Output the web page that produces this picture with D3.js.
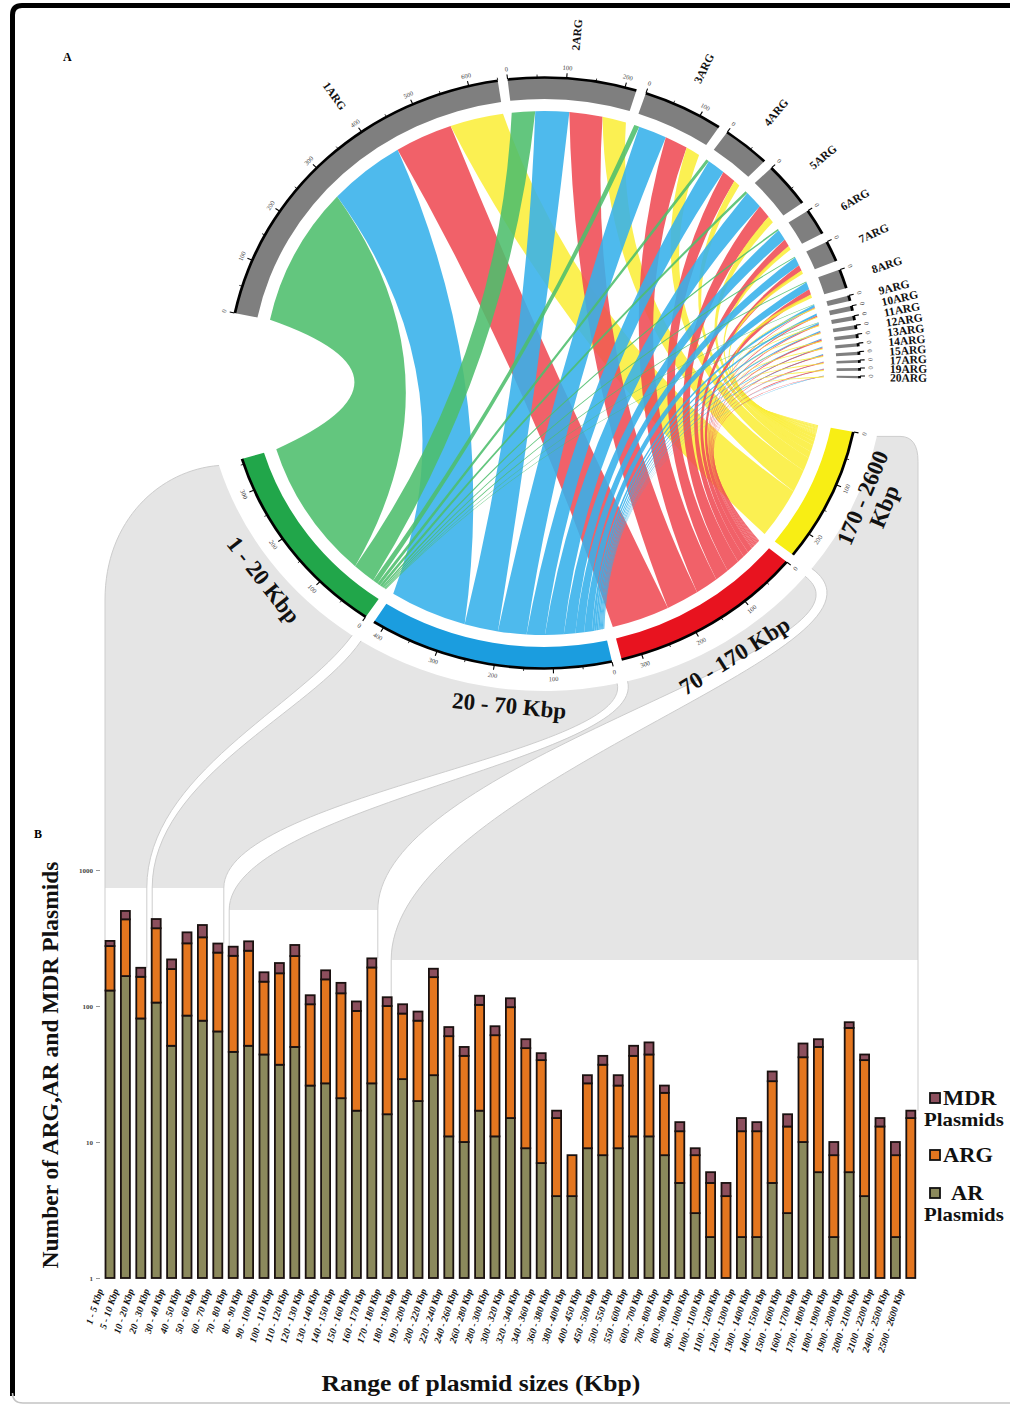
<!DOCTYPE html>
<html><head><meta charset="utf-8">
<script src="https://cdn.jsdelivr.net/npm/d3@7"></script>
<style>
body{margin:0;background:#fff}
svg{display:block}
text{font-family:"Liberation Serif","Times New Roman",serif;font-weight:bold}
</style>
</head><body>
<svg id="chart" width="1010" height="1405"></svg>
<script>
// ---------------- DATA ----------------
const argNames = ["1ARG","2ARG","3ARG","4ARG","5ARG","6ARG","7ARG","8ARG","9ARG","10ARG","11ARG","12ARG","13ARG","14ARG","15ARG","17ARG","19ARG","20ARG"];
const sizeGroups = ["1 - 20 Kbp","20 - 70 Kbp","70 - 170 Kbp","170 - 2600 Kbp"];
// rows = ARG class, columns = plasmid size group
const linkCounts = [
  [285,150,112,103],
  [45,65,64,46],
  [10,55,45,28],
  [6,35,28,13],
  [5,36,27,14],
  [3,22,15,8],
  [2,17,12,7],
  [2,15,11,7],
  [1,5,2,2],
  [0,4,3,2],
  [1,3,2,2],
  [0,3,2,2],
  [0,2,3,2],
  [0,2,2,2],
  [0,2,2,2],
  [0,1,2,2],
  [0,1,2,2],
  [0,1,1,2]
];
const sizeRanges = ["1 - 5","5 - 10","10 - 20","20 - 30","30 - 40","40 - 50","50 - 60","60 - 70","70 - 80","80 - 90","90 - 100","100 - 110","110 - 120","120 - 130","130 - 140","140 - 150","150 - 160","160 - 170","170 - 180","180 - 190","190 - 200","200 - 220","220 - 240","240 - 260","260 - 280","280 - 300","300 - 320","320 - 340","340 - 360","360 - 380","380 - 400","400 - 450","450 - 500","500 - 550","550 - 600","600 - 700","700 - 800","800 - 900","900 - 1000","1000 - 1100","1100 - 1200","1200 - 1300","1300 - 1400","1400 - 1500","1500 - 1600","1600 - 1700","1700 - 1800","1800 - 1900","1900 - 2000","2000 - 2100","2100 - 2200","2400 - 2500","2500 - 2600"];
const arPlasmids = [130,166,81,106,51,85,78,65,46,51,44,37,50,26,27,21,17,27,16,29,20,31,11,10,17,11,15,9,7,4,4,9,8,9,11,11,8,5,3,2,1,2,2,5,3,10,6,2,6,4,1,2,1];
const argGenes   = [146,268,83,267,136,204,242,182,188,204,107,137,183,77,130,103,75,165,84,59,58,132,49,33,85,50,83,40,33,11,4,18,29,17,32,33,15,7,5,3,3,10,10,23,10,32,44,6,63,36,12,6,14];
const mdrPlasmids= [25,66,27,63,33,59,74,41,39,44,26,33,48,17,26,24,16,32,16,15,13,25,10,7,17,10,16,8,5,2,0,4,6,5,8,10,3,2,1,1,1,3,2,5,3,11,7,2,7,4,2,2,2];
const groupBarRanges = [[0,2],[3,7],[8,17],[18,52]];
const yTickValues = [1,10,100,1000];
const legendItems = [["MDR","Plasmids"],["ARG"],["AR","Plasmids"]];

// ---------------- STYLE / LAYOUT ----------------
const DEG = Math.PI/180;
const svg = d3.select("#chart");
const cx = 544, cy = 373, sx = 1.068;
const rIn = 274, rOut = 295, rChord = 262, rBand = 318;
const k = 0.1075*DEG;          // radians per unit
const sectorFill = ["#21a64a","#1b9ddf","#e8131f","#f8ee14"];
const linkFill   = ["#4dbe6c","#36b0ea","#ef4b54","#fbee3a"];
const argFill = "#7f7f7f";
const segColors = ["#8b895c","#e4761f","#8c4f5d"];

function P(theta, r){ return [cx + sx*r*Math.sin(theta), cy - r*Math.cos(theta)]; }

// frame
svg.append("path").attr("d","M1012,5.5 L22,5.5 Q12.5,5.5 12.5,15 L12.5,1396")
  .attr("fill","none").attr("stroke","#000").attr("stroke-width",5);
svg.append("path").attr("d","M12.5,1393 Q12.5,1403 23,1403 L1010,1403")
  .attr("fill","none").attr("stroke","#c4c4c4").attr("stroke-width",1.5);

// ---------------- CHORD LAYOUT ----------------
const rowTot = linkCounts.map(r=>d3.sum(r));
const colTot = sizeGroups.map((_,j)=>d3.sum(linkCounts, r=>r[j]));
let a = -78.3*DEG;
const argSec = argNames.map((n,i)=>{
  const s=a, e=a+rowTot[i]*k;
  const gap = i<7 ? 1.8 : (i===7 ? 1.5 : 1.0);
  a = e + gap*DEG;
  return {name:n, start:s, end:e, total:rowTot[i]};
});
a = 101.5*DEG;
const sizeSec = [];
[3,2,1,0].forEach(j=>{
  const s=a, e=a+colTot[j]*k;
  a = e + 1.8*DEG;
  sizeSec[j] = {name:sizeGroups[j], start:s, end:e, total:colTot[j], j};
});

// ---------------- BAR SCALES ----------------
const x = d3.scalePoint().domain(sizeRanges).range([110, 910.8]);
const y = d3.scaleLog().domain([1,1000]).range([1278, 870]);
const bw = 9;
const totals = sizeRanges.map((_,i)=>arPlasmids[i]+argGenes[i]+mdrPlasmids[i]);

// ---------------- GREY CONNECTOR BANDS ----------------
const bandBottom = [888, 888, 910, 960];
const leftOff = [-5,-4,-4,4], rightOff=[6,6,6,6];
const gBands = svg.append("g");
function radialUnit(theta){
  const vx = sx*Math.sin(theta), vy = -Math.cos(theta);
  const L = Math.hypot(vx,vy); return [vx/L, vy/L];
}
function sCurve(theta, ex, ey){
  const p = P(theta, rBand), u = radialUnit(theta);
  const d = ey - p[1];
  return {p, c1:[p[0]+u[0]*d*0.35, p[1]+u[1]*d*0.35], c2:[ex, ey-d*0.45], e:[ex,ey]};
}
sizeSec.forEach((sec,j)=>{
  const [b0,b1] = groupBarRanges[j];
  const yB = bandBottom[j];
  const xL = x(sizeRanges[b0]) + leftOff[j];
  const xR = x(sizeRanges[b1]) + rightOff[j];
  const Ps = P(sec.start, rBand), Pe = P(sec.end, rBand);
  const rx = sx*rBand, ry = rBand;
  let rightFwd, rightEndX;
  if (j===3){
    rightFwd = `L900,${Ps[1]} Q918,${Ps[1]} 918,${Ps[1]+25} L918,${yB}`;
    rightEndX = 918;
  } else {
    const c = sCurve(sec.start, xR, yB);
    rightFwd = `C${c.c1} ${c.c2} ${c.e}`;
    rightEndX = xR;
  }
  let leftFwd, leftRev, leftEndX;
  if (j===0){
    leftFwd = `C160,470 105,520 105,600 L105,${yB}`;
    leftRev = `L105,600 C105,520 160,470 ${Pe}`;
    leftEndX = 105;
  } else {
    const c = sCurve(sec.end, xL, yB);
    leftFwd = `C${c.c1} ${c.c2} ${c.e}`;
    leftRev = `C${c.c2} ${c.c1} ${c.p}`;
    leftEndX = xL;
  }
  const d = `M${Pe} A${rx},${ry} 0 0 0 ${Ps} ${rightFwd} L${leftEndX},${yB} ${leftRev} Z`;
  gBands.append("path").attr("d", d).attr("fill","#e5e5e5").attr("stroke","none");
  const topR = y(totals[b1]), topL = y(totals[b0]);
  gBands.append("path").attr("d", `M${Ps} ${rightFwd} L${rightEndX},${topR}`)
    .attr("fill","none").attr("stroke","#cdcdcd").attr("stroke-width",1);
  gBands.append("path").attr("d", `M${Pe} ${leftFwd} L${leftEndX},${topL}`)
    .attr("fill","none").attr("stroke","#cdcdcd").attr("stroke-width",1);
});

// ---------------- CHORD DIAGRAM ----------------
const gC = svg.append("g").attr("transform",`translate(${cx},${cy}) scale(${sx},1)`);
const srcPos = linkCounts.map((row,i)=>{ let s=argSec[i].start; return row.map(v=>{const o={startAngle:s,endAngle:s+v*k}; s+=v*k; return o;}); });
const tgtPos = linkCounts.map(r=>r.map(()=>null));
sizeSec.forEach(sec=>{
  let s=sec.start;
  for(let i=argNames.length-1;i>=0;i--){
    const v=linkCounts[i][sec.j];
    tgtPos[i][sec.j]={startAngle:s,endAngle:s+v*k}; s+=v*k;
  }
});
function ctrl(a1, a2, r){
  let d = a2 - a1;
  while (d > Math.PI) d -= 2*Math.PI;
  while (d <= -Math.PI) d += 2*Math.PI;
  const m = a1 + d/2, c = 0.4*r*Math.cos(Math.abs(d)/2);
  return [c*Math.sin(m), -c*Math.cos(m)];
}
function linkPath(src, tgt, r){
  const p = d3.path();
  const pt = t=>[r*Math.sin(t), -r*Math.cos(t)];
  const s0=pt(src.startAngle), t0=pt(tgt.startAngle);
  p.moveTo(s0[0], s0[1]);
  p.arc(0,0,r,src.startAngle-Math.PI/2, src.endAngle-Math.PI/2);
  const c1 = ctrl(src.endAngle, tgt.startAngle, r);
  p.quadraticCurveTo(c1[0], c1[1], t0[0], t0[1]);
  p.arc(0,0,r,tgt.startAngle-Math.PI/2, tgt.endAngle-Math.PI/2);
  const c2 = ctrl(tgt.endAngle, src.startAngle, r);
  p.quadraticCurveTo(c2[0], c2[1], s0[0], s0[1]);
  p.closePath();
  return p.toString();
}
const linkData=[];
linkCounts.forEach((row,i)=>row.forEach((v,j)=>{ if(v>0) linkData.push({i,j,source:srcPos[i][j],target:tgtPos[i][j]}); }));
gC.selectAll("path.link").data(linkData).join("path").attr("class","link")
  .attr("d", d=>linkPath(d.source, d.target, rChord))
  .attr("fill", d=>linkFill[d.j]).attr("fill-opacity",0.88);

const arcRing = d3.arc().innerRadius(rIn).outerRadius(rOut);
const arcAxis = d3.arc().innerRadius(rOut-0.8).outerRadius(rOut+1.8);
const allSec = argSec.map(s=>({...s, fill:argFill})).concat(sizeSec.map(s=>({...s, fill:sectorFill[s.j]})));
gC.selectAll("path.sec").data(allSec).join("path").attr("class","sec")
  .attr("d", d=>arcRing({startAngle:d.start,endAngle:d.end})).attr("fill", d=>d.fill);
gC.selectAll("path.ax").data(allSec).join("path").attr("class","ax")
  .attr("d", d=>arcAxis({startAngle:d.start,endAngle:d.end})).attr("fill","#000");

const gT = svg.append("g");
allSec.forEach(sec=>{
  for(let v=0; v<=sec.total; v+=50){
    const th = sec.start + v*k;
    const major = v%100===0;
    const p0 = P(th, rOut+1), p1 = P(th, rOut + (major?5.5:3.5));
    gT.append("line").attr("x1",p0[0]).attr("y1",p0[1]).attr("x2",p1[0]).attr("y2",p1[1])
      .attr("stroke","#000").attr("stroke-width",major?1.1:0.8);
    if(major){
      const pl = P(th, rOut+11);
      let deg = ((th/DEG)%360+360)%360;
      const rot = (deg>90 && deg<270) ? deg-180 : deg;
      gT.append("text").attr("transform",`translate(${pl[0]},${pl[1]}) rotate(${rot})`)
        .attr("text-anchor","middle").attr("dy","0.35em")
        .style("font-size","6.5px").style("font-weight","normal").attr("fill","#444").text(v);
    }
  }
});

const labelShift = {"1ARG": 8};
argSec.forEach(sec=>{
  let mid = (sec.start+sec.end)/2 + (labelShift[sec.name]||0)*DEG;
  let deg = ((mid/DEG)%360+360)%360;
  const p = P(mid, 324);
  const right = deg < 180;
  gT.append("text").attr("transform",`translate(${p[0]},${p[1]}) rotate(${right?deg-90:deg+90})`)
    .attr("text-anchor", right?"start":"end").attr("dy","0.35em")
    .style("font-size","11.5px").attr("fill","#111").text(sec.name);
});

const sizeLabelShift = [-2, -4.5, 0, -2];
const sizeLabelLines = [["1 - 20 Kbp"],["20 - 70 Kbp"],["70 - 170 Kbp"],["170 - 2600","Kbp"]];
sizeSec.forEach(sec=>{
  const mid = (sec.start+sec.end)/2 + sizeLabelShift[sec.j]*DEG;
  const deg = mid/DEG;
  const lines = sizeLabelLines[sec.j];
  lines.forEach((t,li)=>{
    const r = lines.length===1 ? 334 : (li===0 ? 323 : 345);
    const p = P(mid, r);
    gT.append("text").attr("transform",`translate(${p[0]},${p[1]}) rotate(${deg-180})`)
      .attr("text-anchor","middle").attr("dy","0.35em")
      .style("font-size","23px").attr("fill","#111").text(t);
  });
});

svg.append("text").attr("x",63).attr("y",61).style("font-size","12px").text("A");
svg.append("text").attr("x",34).attr("y",838).style("font-size","12px").text("B");

// ---------------- BAR CHART ----------------
const gB = svg.append("g");
sizeRanges.forEach((cat,i)=>{
  const cum = [1, arPlasmids[i], arPlasmids[i]+argGenes[i], totals[i]];
  for(let s=0;s<3;s++){
    const v0 = s===0 ? 1 : cum[s], v1 = cum[s+1];
    if (v1<=v0) continue;
    gB.append("rect").attr("x", x(cat)-bw/2).attr("width", bw)
      .attr("y", y(v1)).attr("height", y(v0)-y(v1))
      .attr("fill", segColors[s]).attr("stroke","#1a1110").attr("stroke-width",1.8);
  }
});
const yAxis = d3.axisLeft(y).tickValues(yTickValues).tickFormat(d3.format("d")).tickSize(4).tickPadding(3);
const gY = svg.append("g").attr("transform","translate(100,0)").call(yAxis);
gY.select(".domain").remove();
gY.selectAll("text").style("font-size","7px").attr("fill","#444").style("font-family","Liberation Serif");
gY.selectAll("line").attr("stroke","#999");

sizeRanges.forEach(cat=>{
  gB.append("text").attr("transform",`translate(${x(cat)-10},1289) rotate(-72)`)
    .attr("text-anchor","end").attr("dy","0.35em")
    .style("font-size","9.8px").style("font-style","italic").attr("fill","#111")
    .text(cat+" Kbp");
});
svg.append("text").attr("transform","translate(481,1391) scale(1.068,1)").attr("text-anchor","middle")
  .style("font-size","24px").attr("fill","#111").text("Range of plasmid sizes (Kbp)");
svg.append("text").attr("transform","translate(58,1065) rotate(-90)").attr("text-anchor","middle")
  .style("font-size","23.5px").attr("fill","#111").text("Number of ARG,AR and MDR Plasmids");

const legY = [1093, 1150, 1188];
const legColors = [segColors[2], segColors[1], segColors[0]];
legendItems.forEach((it,i)=>{
  svg.append("rect").attr("x",930).attr("y",legY[i]).attr("width",10).attr("height",10)
    .attr("fill",legColors[i]).attr("stroke","#111").attr("stroke-width",1.8);
  svg.append("text").attr("transform",`translate(${i===2?951:943},${legY[i]+12}) scale(1.068,1)`)
    .style("font-size","21px").attr("fill","#111").text(it[0]);
  if(it[1]) svg.append("text").attr("transform",`translate(924,${legY[i]+33}) scale(1.068,1)`)
    .style("font-size","19.5px").attr("fill","#111").text(it[1]);
});
</script>
</body></html>
